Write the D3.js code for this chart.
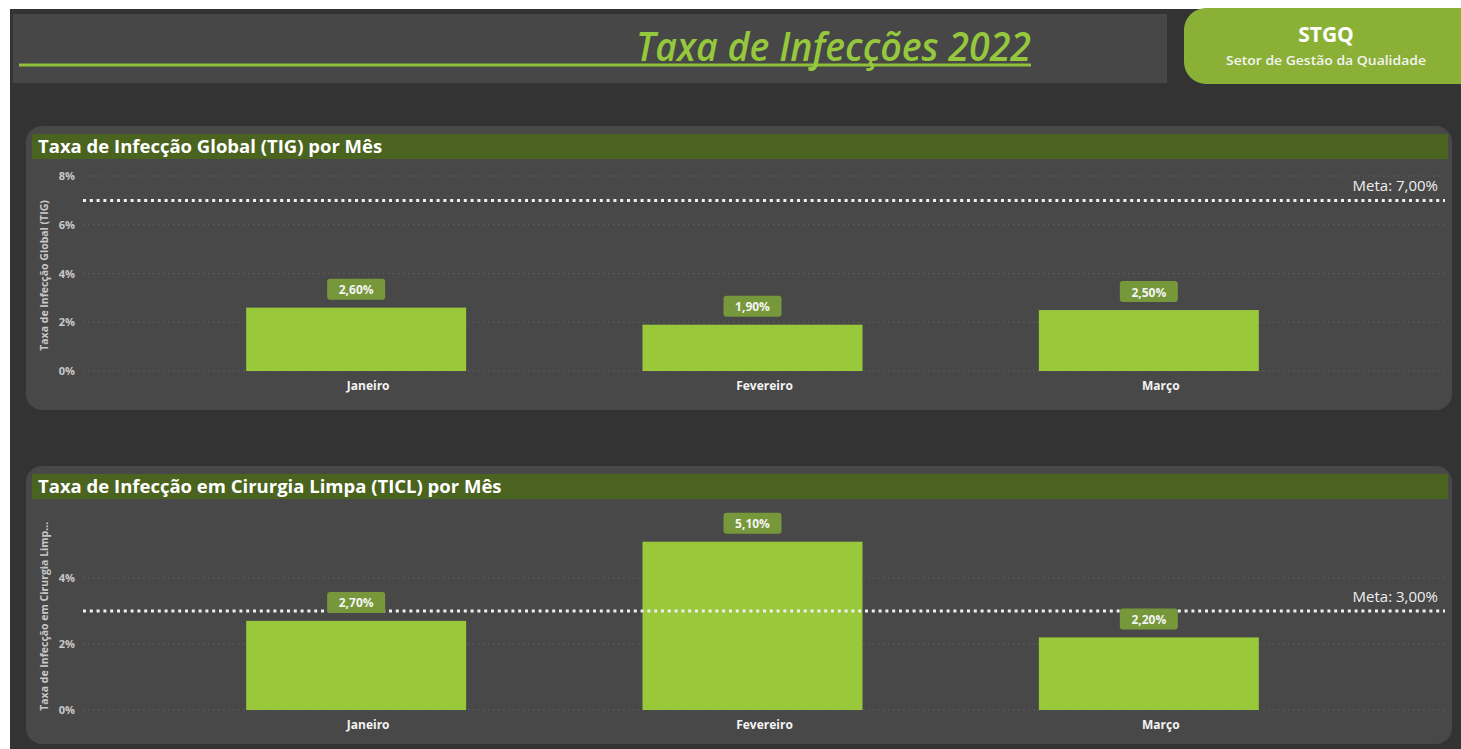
<!DOCTYPE html>
<html>
<head>
<meta charset="utf-8">
<script src="https://cdn.jsdelivr.net/npm/d3@7"></script>
<style>
body { margin: 0; background: #ffffff; }
svg { display: block; font-family: "Open Sans", "Noto Sans", sans-serif; }
</style>
</head>
<body>
<div id="chart"></div>
<script>
var months = ["Janeiro", "Fevereiro", "Março"];
var tigValues = [2.6, 1.9, 2.5];
var ticlValues = [2.7, 5.1, 2.2];
var tigMeta = 7;
var ticlMeta = 3;
var tigTicks = [0, 2, 4, 6, 8];
var ticlTicks = [0, 2, 4];

function fmt(v) {
    return v.toFixed(2).replace(".", ",") + "%";
}

function init() {
var w = 1461;
var h = 749;

var svg = d3.select("#chart")
            .append("svg")
            .attr("width", w)
            .attr("height", h);

// page background
svg.append("rect").attr("x", 10).attr("y", 9).attr("width", w - 10).attr("height", h - 9).attr("fill", "#333333");

// header bar
svg.append("rect").attr("x", 13).attr("y", 14).attr("width", 1154).attr("height", 69).attr("fill", "#474747");
svg.append("line").attr("x1", 19).attr("x2", 1031).attr("y1", 65).attr("y2", 65)
    .attr("stroke", "#8fc13a").attr("stroke-width", 3);
svg.append("text")
    .attr("x", 1031).attr("y", 61)
    .attr("text-anchor", "end")
    .attr("textLength", 395).attr("lengthAdjust", "spacingAndGlyphs")
    .attr("font-size", 40).attr("font-style", "italic").attr("font-weight", 600)
    .attr("fill", "#95c83c")
    .text("Taxa de Infecções 2022");

// STGQ box
svg.append("rect").attr("x", 1184).attr("y", 8).attr("width", 300).attr("height", 76)
    .attr("rx", 22).attr("fill", "#8ab135");
svg.append("text").attr("x", 1326).attr("y", 42).attr("text-anchor", "middle")
    .attr("font-size", 21).attr("font-weight", 700).attr("fill", "#ffffff").text("STGQ");
svg.append("text").attr("x", 1326).attr("y", 65).attr("text-anchor", "middle")
    .attr("textLength", 200).attr("lengthAdjust", "spacingAndGlyphs")
    .attr("font-size", 13).attr("font-weight", 600).attr("fill", "#f4f4f4").text("Setor de Gestão da Qualidade");

drawPanel(svg, {
    top: 126, bottom: 410,
    title: "Taxa de Infecção Global (TIG) por Mês",
    yTitle: "Taxa de Infecção Global (TIG)",
    values: tigValues, meta: tigMeta, ticks: tigTicks,
    yMax: 8, plotTop: 176, plotBottom: 371
});

drawPanel(svg, {
    top: 466, bottom: 744,
    title: "Taxa de Infecção em Cirurgia Limpa (TICL) por Mês",
    yTitle: "Taxa de Infecção em Cirurgia Limp...",
    values: ticlValues, meta: ticlMeta, ticks: ticlTicks,
    yMax: 5.8, plotTop: 518.6, plotBottom: 710
});
}

function drawPanel(svg, c) {
    var g = svg.append("g");
    var left = 26, right = 1452;

    g.append("rect").attr("x", left).attr("y", c.top)
        .attr("width", right - left).attr("height", c.bottom - c.top)
        .attr("rx", 16).attr("fill", "#484848");
    g.append("rect").attr("x", 32).attr("y", c.top + 8)
        .attr("width", 1416).attr("height", 25).attr("fill", "#4a631e");
    g.append("text").attr("x", 38).attr("y", c.top + 27)
        .attr("font-size", 18.5).attr("font-weight", 700).attr("fill", "#ffffff")
        .text(c.title);

    var x = d3.scaleBand()
        .domain(months)
        .range([158, 1347])
        .paddingInner(0.445)
        .paddingOuter(0.2225);

    var y = d3.scaleLinear()
        .domain([0, c.yMax])
        .range([c.plotBottom, c.plotTop]);

    // gridlines
    g.selectAll(".grid")
        .data(c.ticks)
        .enter()
        .append("line")
        .attr("x1", 83).attr("x2", 1445)
        .attr("y1", function(d) { return y(d); })
        .attr("y2", function(d) { return y(d); })
        .attr("stroke", "#626262")
        .attr("stroke-width", 1.2)
        .attr("stroke-dasharray", "1.5,3.5");

    // y axis tick labels
    var yAxis = d3.axisLeft(y).tickValues(c.ticks).tickSize(0).tickPadding(0)
        .tickFormat(function(d) { return d + "%"; });
    var ya = g.append("g").attr("transform", "translate(75,0)").call(yAxis);
    ya.select(".domain").remove();
    ya.selectAll("text").attr("font-size", 11).attr("font-weight", 700)
        .attr("fill", "#c8c8c8").attr("font-family", "Open Sans, sans-serif");

    // y title
    g.append("text")
        .attr("transform", "translate(48," + ((c.plotTop + c.plotBottom) / 2 + 2) + ") rotate(-90)")
        .attr("text-anchor", "middle")
        .attr("font-size", 10.5).attr("font-weight", 700).attr("fill", "#c8c8c8")
        .text(c.yTitle);

    // bars
    g.selectAll(".bar")
        .data(c.values)
        .enter()
        .append("rect")
        .attr("x", function(d, i) { return x(months[i]); })
        .attr("y", function(d) { return y(d); })
        .attr("width", x.bandwidth())
        .attr("height", function(d) { return y(0) - y(d); })
        .attr("fill", "#99c93b");

    // meta line
    g.append("line")
        .attr("x1", 83).attr("x2", 1445)
        .attr("y1", y(c.meta)).attr("y2", y(c.meta))
        .attr("stroke", "#f0f0f0").attr("stroke-width", 3)
        .attr("stroke-dasharray", "3,3.8");
    g.append("text")
        .attr("x", 1438).attr("y", y(c.meta) - 9)
        .attr("text-anchor", "end")
        .attr("font-size", 15).attr("fill", "#eeeeee")
        .text("Meta: " + fmt(c.meta));

    // value labels
    var lab = g.selectAll(".lab")
        .data(c.values)
        .enter()
        .append("g")
        .attr("transform", function(d, i) {
            return "translate(" + (x(months[i]) + x.bandwidth() / 2) + "," + (y(d) - 18) + ")";
        });
    lab.append("rect")
        .attr("x", -29).attr("y", -11).attr("width", 58).attr("height", 21)
        .attr("rx", 3).attr("fill", "#76983a");
    lab.append("text")
        .attr("text-anchor", "middle").attr("y", 4.5)
        .attr("font-size", 12).attr("font-weight", 700).attr("fill", "#f4f4f4")
        .text(function(d) { return fmt(d); });

    // x labels
    g.selectAll(".xl")
        .data(months)
        .enter()
        .append("text")
        .attr("x", function(d) { return x(d) + x.bandwidth() / 2 + 12; })
        .attr("y", c.plotBottom + 19)
        .attr("text-anchor", "middle")
        .attr("font-size", 12).attr("font-weight", 700).attr("fill", "#f4f4f4")
        .text(function(d) { return d; });
}

window.onload = init;
</script>
</body>
</html>
